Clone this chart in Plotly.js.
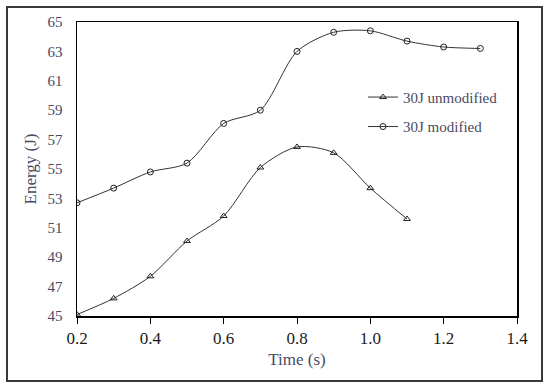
<!DOCTYPE html>
<html><head><meta charset="utf-8">
<script src="https://cdn.plot.ly/plotly-3.0.1.min.js"></script>
<style>
html,body{margin:0;padding:0;background:#fff;}
#wrap{position:relative;width:550px;height:386px;}
#chart{width:550px;height:386px;}
#frame{position:absolute;left:6px;top:6px;width:533px;height:372px;border:2px solid #3a3a3a;pointer-events:none;}
</style></head>
<body>
<div id="wrap"><div id="chart"></div><div id="frame"></div></div>
<script>
const timeS = [0.2,0.3,0.4,0.5,0.6,0.7,0.8,0.9,1.0,1.1,1.2,1.3];
const unmodified = [45.1,46.2,47.7,50.1,51.8,55.1,56.5,56.1,53.7,51.6];
const modified = [52.7,53.7,54.8,55.4,58.1,59.0,63.0,64.3,64.4,63.7,63.3,63.2];
const xTicks = [0.2,0.4,0.6,0.8,1.0,1.2,1.4];
const xTickText = ['0.2','0.4','0.6','0.8','1.0','1.2','1.4'];
const yTicks = [45,47,49,51,53,55,57,59,61,63,65];

const serif = 'Liberation Serif, Times New Roman, serif';
const textCol = '#4a4a62';
const traces = [
  {x: timeS.slice(0, unmodified.length), y: unmodified, name: '30J unmodified', mode: 'lines+markers',
   legendgroup: 'a',
   line: {color: '#333', width: 1, shape: 'spline', smoothing: 0.8},
   marker: {symbol: 'triangle-up-open', size: 6, color: '#222', line: {width: 1}}},
  {x: timeS, y: modified, name: '30J modified', mode: 'lines+markers',
   legendgroup: 'b',
   line: {color: '#333', width: 1, shape: 'spline', smoothing: 0.8},
   marker: {symbol: 'circle-open', size: 6, color: '#222', line: {width: 1}}}
];
const layout = {
  width: 550, height: 386,
  margin: {l: 77, r: 33, t: 22, b: 70},
  paper_bgcolor: '#fff', plot_bgcolor: '#fff',
  font: {family: serif, color: textCol, size: 15},
  showlegend: true,
  legend: {x: 0.65, y: 0.80, xanchor: 'left', yanchor: 'top', bgcolor: 'rgba(0,0,0,0)',
           font: {family: serif, size: 15, color: textCol}, tracegroupgap: 7, itemwidth: 30},
  xaxis: {range: [0.2, 1.4], tickvals: xTicks, ticktext: xTickText, ticks: 'outside', ticklen: 6,
          tickcolor: '#000', showgrid: false, zeroline: false, showline: true, linecolor: '#000',
          linewidth: 1.5, mirror: true, tickfont: {size: 17, color: '#1a1a1a', family: serif},
          title: {text: 'Time (s)', font: {size: 17, color: textCol, family: serif}, standoff: 6}},
  yaxis: {range: [45, 65], tickvals: yTicks, ticks: '', showgrid: false, zeroline: false,
          showline: true, linecolor: '#000', linewidth: 1.5, mirror: true,
          ticklabelstandoff: 10,
          tickfont: {size: 15, color: textCol, family: serif},
          title: {text: 'Energy (J)', font: {size: 17, color: textCol, family: serif}, standoff: 6}}
};
Plotly.newPlot('chart', traces, layout, {displayModeBar: false, staticPlot: true});
</script>
</body></html>
